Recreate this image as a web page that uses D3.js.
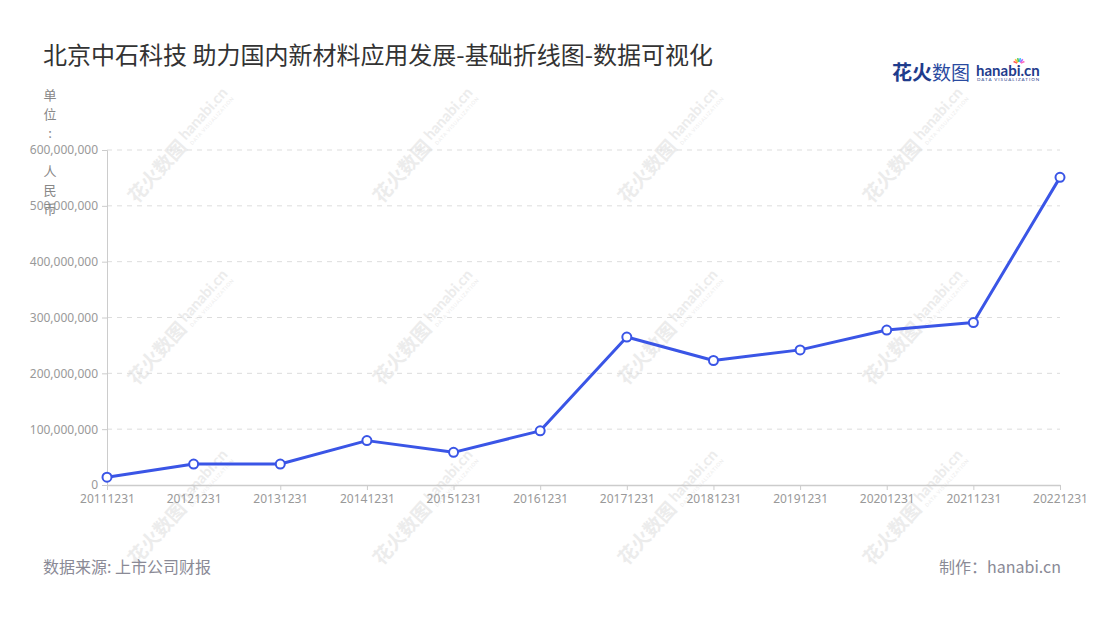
<!DOCTYPE html>
<html><head><meta charset="utf-8">
<script src="https://cdn.jsdelivr.net/npm/d3@7/dist/d3.min.js"></script>
<style>
html,body{margin:0;padding:0;background:#fff;}
svg{display:block;font-family:"Noto Sans CJK SC","Noto Sans",sans-serif;}
</style></head>
<body><svg id="c" width="1100" height="620"></svg>
<script>
const categories = ["20111231","20121231","20131231","20141231","20151231","20161231","20171231","20181231","20191231","20201231","20211231","20221231"];
const values = [14000000, 37500000, 37500000, 79500000, 58500000, 97000000, 265000000, 223000000, 242000000, 277500000, 291000000, 551000000];
const yTicks = [0, 100000000, 200000000, 300000000, 400000000, 500000000, 600000000];
const titleText = "北京中石科技 助力国内新材料应用发展-基础折线图-数据可视化";
const unitLabel = "单位: 人民币";
const sourceText = "数据来源: 上市公司财报";
const makerText = "制作：hanabi.cn";

const svg = d3.select("#c");
const x = d3.scalePoint().domain(categories).range([107, 1060]);
const y = d3.scaleLinear().domain([0, 600000000]).range([485, 150]);

// watermarks
const wmX = [185, 430, 675, 920], wmY = [140, 322, 502];
const wm = svg.append("g");
wmX.forEach(cx => wmY.forEach(cy => {
  const g = wm.append("g").attr("transform", `translate(${cx},${cy}) rotate(-48)`);
  g.append("text").attr("x", -4).attr("y", 7).attr("text-anchor", "end")
    .attr("font-size", 19).attr("font-weight", "bold").attr("fill", "#ececec").text("花火数图");
  g.append("text").attr("x", 0).attr("y", 1).attr("font-size", 15).attr("font-weight", "bold")
    .attr("fill", "#ececec").attr("font-family", "Lato, sans-serif").text("hanabi.cn");
  g.append("text").attr("x", 1).attr("y", 9).attr("font-size", 5)
    .attr("fill", "#ececec").attr("font-family", "Lato, sans-serif").attr("letter-spacing", 0.7).text("DATA VISUALIZATION");
}));

// title
svg.append("text").attr("x", 43).attr("y", 64).attr("font-size", 24).attr("fill", "#333")
  .text(titleText);

// logo
const logo = svg.append("g");
logo.append("text").attr("x", 892).attr("y", 80).attr("font-size", 20).attr("font-weight", "bold")
  .attr("fill", "#1f3c8c").text("花火");
logo.append("text").attr("x", 932).attr("y", 80).attr("font-size", 19)
  .attr("fill", "#2a4aa0").text("数图");
logo.append("text").attr("x", 976).attr("y", 76).attr("font-size", 15).attr("font-weight", "bold")
  .attr("font-family", "Lato, sans-serif").attr("fill", "#1f3c8c").text("hanabi.cn");
logo.append("text").attr("x", 977).attr("y", 81).attr("font-size", 4.5)
  .attr("font-family", "Lato, sans-serif").attr("letter-spacing", 1).attr("fill", "#1f3c8c").text("DATA VISUALIZATION");
const burst = ["#f55","#fb3","#5c5","#3bf","#a6f","#f6b"];
burst.forEach((c,i)=>{
  const a = -Math.PI/2 + (i-2.5)*0.45;
  logo.append("line").attr("x1", 1019+Math.cos(a)*2).attr("y1", 64+Math.sin(a)*2)
    .attr("x2", 1019+Math.cos(a)*6).attr("y2", 64+Math.sin(a)*6)
    .attr("stroke", c).attr("stroke-width", 1.6);
});

// grid
svg.append("g").selectAll("line").data(yTicks.filter(d=>d>0)).join("line")
  .attr("x1", 107).attr("x2", 1060).attr("y1", d=>y(d)).attr("y2", d=>y(d))
  .attr("stroke", "#ddd").attr("stroke-dasharray", "5,5");

// y axis
const yAxis = svg.append("g").attr("transform", "translate(107,0)")
  .call(d3.axisLeft(y).tickValues(yTicks).tickFormat(d3.format(",")).tickSize(5).tickPadding(4));
yAxis.select(".domain").attr("stroke", "#ccc");
yAxis.selectAll(".tick line").attr("stroke", "#ccc");
yAxis.selectAll("text").attr("fill", "#999").attr("font-size", 12).attr("font-family", "Noto Sans, sans-serif");

// x axis
const xAxis = svg.append("g").attr("transform", "translate(0,485)")
  .call(d3.axisBottom(x).tickSize(5).tickPadding(4).tickSizeOuter(0));
xAxis.select(".domain").attr("stroke", "#ccc").attr("stroke-width", 1.5);
xAxis.selectAll(".tick line").attr("stroke", "#ccc");
xAxis.selectAll("text").attr("fill", "#999").attr("font-size", 12).attr("font-family", "Noto Sans, sans-serif");

// unit label, vertical
svg.append("g").selectAll("text").data(Array.from(unitLabel)).join("text")
  .attr("x", 50).attr("y", (d,i)=>100 + i*19).attr("text-anchor", "middle")
  .attr("font-size", 13).attr("fill", "#888").text(d=>d);

// line
const line = d3.line().x((d,i)=>x(categories[i])).y(d=>y(d));
svg.append("path").datum(values).attr("d", line).attr("fill", "none")
  .attr("stroke", "#3a55e6").attr("stroke-width", 3).attr("stroke-linejoin", "round");
svg.append("g").selectAll("circle").data(values).join("circle")
  .attr("cx", (d,i)=>x(categories[i])).attr("cy", d=>y(d)).attr("r", 4.5)
  .attr("fill", "#fff").attr("stroke", "#3a55e6").attr("stroke-width", 2);

// footer
svg.append("text").attr("x", 43).attr("y", 573).attr("font-size", 16).attr("fill", "#8a8a96").text(sourceText);
svg.append("text").attr("x", 1061).attr("y", 573).attr("text-anchor", "end").attr("font-size", 16).attr("fill", "#8a8a96").text(makerText);
</script>
</body></html>
